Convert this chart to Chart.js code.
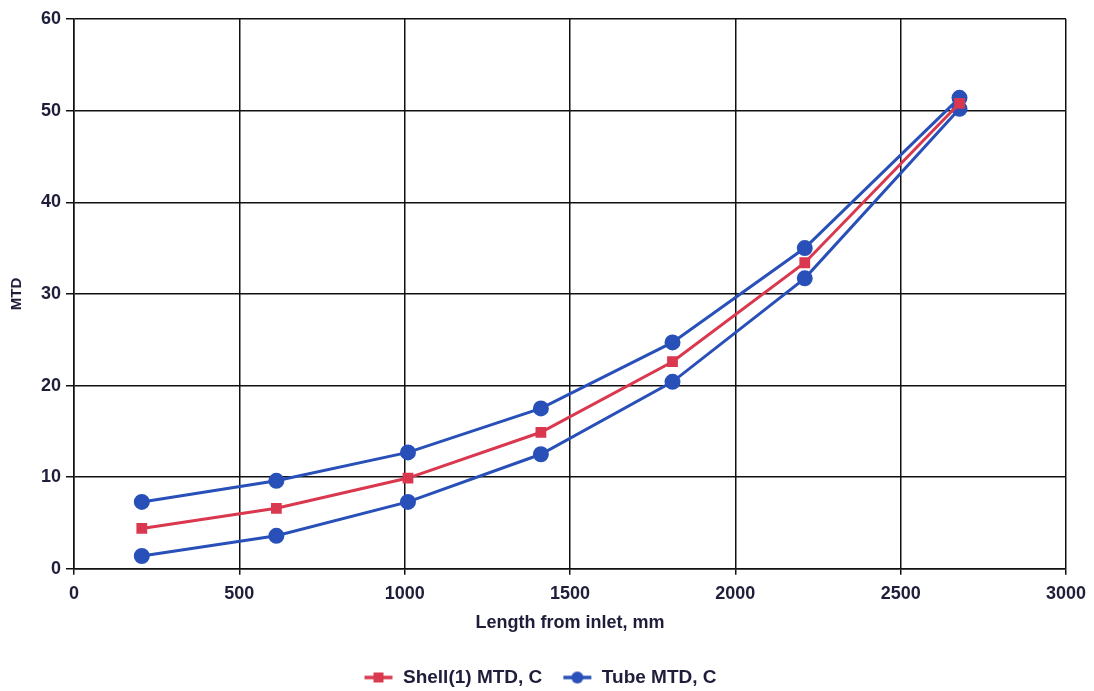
<!DOCTYPE html>
<html><head><meta charset="utf-8">
<script src="https://cdn.jsdelivr.net/npm/chart.js@4/dist/chart.umd.min.js"></script>
<style>html,body{margin:0;padding:0;background:#fff}#wrap{width:1094px;height:691px}</style>
</head><body><div id="wrap"><canvas id="c" width="1094" height="691"></canvas></div>
<script>
const lengths = [205, 612, 1010, 1412, 1810, 2210, 2678];
const shellMTD = [4.4, 6.6, 9.9, 14.9, 22.6, 33.4, 50.8];
const tubeUpper = [7.3, 9.6, 12.7, 17.5, 24.7, 35.0, 51.4];
const tubeLower = [1.4, 3.6, 7.3, 12.5, 20.4, 31.7, 50.2];
const xTicks = [0, 500, 1000, 1500, 2000, 2500, 3000];
const yTicks = [0, 10, 20, 30, 40, 50, 60];

const RED = '#d9384f', BLUE = '#2850b8', TXT = '#1e1e3a';
const FONT = {family: 'Liberation Sans', size: 18, weight: 'bold'};
const pts = ys => lengths.map((x, i) => ({x: x, y: ys[i]}));

function legendIcon(color, square) {
  const c = document.createElement('canvas');
  c.width = 30; c.height = 14;
  const g = c.getContext('2d');
  g.strokeStyle = color; g.lineWidth = 3.5;
  g.beginPath(); g.moveTo(1, 7); g.lineTo(29, 7); g.stroke();
  g.fillStyle = color;
  if (square) { g.fillRect(10, 2, 10, 10); }
  else { g.beginPath(); g.arc(15, 7, 6, 0, Math.PI * 2); g.fill(); }
  return c;
}
const icons = [legendIcon(RED, true), legendIcon(BLUE, false)];

new Chart(document.getElementById('c'), {
  type: 'scatter',
  data: {
    datasets: [
      {label: 'Shell(1) MTD, C', data: pts(shellMTD), showLine: true, borderColor: RED, backgroundColor: RED,
       borderWidth: 3, pointStyle: 'rect', pointRadius: 5.5, pointHoverRadius: 5.5},
      {label: 'Tube MTD, C', data: pts(tubeUpper), showLine: true, borderColor: BLUE, backgroundColor: BLUE,
       borderWidth: 3, pointStyle: 'circle', pointRadius: 6.5, pointHoverRadius: 6.5},
      {label: 'Tube MTD, C (lower)', data: pts(tubeLower), showLine: true, borderColor: BLUE, backgroundColor: BLUE,
       borderWidth: 3, pointStyle: 'circle', pointRadius: 6.5, pointHoverRadius: 6.5}
    ]
  },
  options: {
    responsive: false,
    animation: false,
    layout: {padding: {left: 8, right: 22, top: 19, bottom: -6}},
    plugins: {
      tooltip: {enabled: false},
      legend: {
        position: 'bottom',
        labels: {
          usePointStyle: true,
          pointStyleWidth: 30,
          padding: 20,
          color: TXT,
          font: {family: 'Liberation Sans', size: 19, weight: 'bold'},
          generateLabels: chart => [0, 1].map(i => ({
            text: chart.data.datasets[i].label, pointStyle: icons[i], fontColor: TXT,
            datasetIndex: i, hidden: false, lineWidth: 0, strokeStyle: 'transparent', fillStyle: 'transparent'
          }))
        }
      }
    },
    scales: {
      x: {
        type: 'linear', min: 0, max: 3000,
        afterBuildTicks: s => { s.ticks = xTicks.map(v => ({value: v})); },
        grid: {color: '#111', lineWidth: 1.5, tickLength: 6, tickColor: '#111'},
        border: {color: '#111', width: 1.5},
        ticks: {color: TXT, font: FONT, padding: 8, maxRotation: 0, callback: v => String(v)},
        title: {display: true, text: 'Length from inlet, mm', color: TXT, font: FONT, padding: {top: 0, bottom: 14}}
      },
      y: {
        type: 'linear', min: 0, max: 60,
        afterBuildTicks: s => { s.ticks = yTicks.map(v => ({value: v})); },
        grid: {color: '#111', lineWidth: 1.5, tickLength: 8, tickColor: '#111'},
        border: {color: '#111', width: 1.5},
        ticks: {color: TXT, font: FONT, padding: 5, callback: v => String(v)},
        title: {display: true, text: 'MTD', color: TXT,
                font: {family: 'Liberation Sans', size: 15, weight: 'bold'}, padding: {top: 0, bottom: 10}}
      }
    }
  }
});
</script>
</body></html>
